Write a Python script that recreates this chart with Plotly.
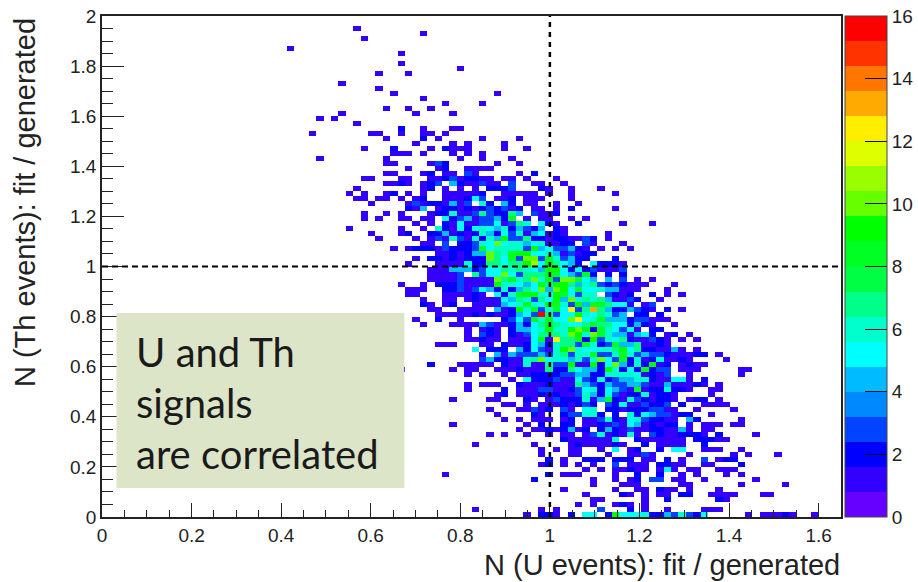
import plotly.graph_objects as go

# Histogram axes
X_MAX = 1.65
Y_MAX = 2.0
N_BINS = 100

# Palette of the z scale, bottom to top
palette = ["#6600ff", "#3300ff", "#0000ff", "#0044ff", "#0088ff", "#00bbff", "#00ffff",
           "#00ffcc", "#00ff88", "#00ff44", "#00ff22", "#00ff00", "#66ff00", "#99ff00",
           "#ddff00", "#ffee00", "#ffaa00", "#ff7700", "#ff3300", "#ff0000"]

x_tick_labels = ["0", "0.2", "0.4", "0.6", "0.8", "1", "1.2", "1.4", "1.6"]
y_tick_labels = ["0", "0.2", "0.4", "0.6", "0.8", "1", "1.2", "1.4", "1.6", "1.8", "2"]
z_ticks = [0, 2, 4, 6, 8, 10, 12, 14, 16]

# Counts per y bin, listed from the top bin down.  "col:digits" = run of counts from x bin col
# (digits in base 17: a=10 ... g=16)
rows_top_down = [
 "", "", "34:1", "43:1", "35:1", "", "25:1", "40:1", "", "40:1",
 "48:1", "37:1 41:1", "", "32:1", "37:1", "39:1 53:1", "43:1", "46:1 51:1", "38:1 41:1 44:1", "32:1 42:1 47:1",
 "29:1 31:1", "34:1", "40:2 43:1 47:11", "28:1 36:11 40:1 43:11 46:1", "38:1 43:2 45:1 51:1 56:1",
 "42:1 47:1 49:1 54:1", "35:1 39:2 44:1 46:2 47:111 54:1 57:1", "39:111 43:1 47:1 49:1 51:1", "29:1 38:1 48:1 51:1 55:1",
 "38:11 44:1 45:3 46:2 53:1 56:1",
 "41:1 45:1 46:2 49:1111", "38:11 43:1 44:2 46:11 49:31 56:1 58:2", "35:11 40:11 44:11 46:2 47:3 48:1 49:22 51:11 54:11 57:1 61:1",
 "38:1121 43:1 44:23 47:42 49:11 51:3 52:11 55:3 58:11 62:1", "34:1 43:12 46:1 48:1 50:1 52:222 55:3 59:21 63:1 67:1",
 "33:1 35:1 38:12 41:1 43:1 46:1111 50:12 54:111 57:11 60:1 63:1 69:1", "34:11 37:11 40:1 42:12 46:111 49:253 53:112 57:11 59:1 63:1",
 "36:1 41:1312 45:21 47:41 49:3 51:62 54:42 57:11 61:1 64:1", "41:214 45:1 46:22 48:1 49:21 51:2323 55:12 58:11 61:1 63:2 69:1",
 "35:1 38:1 40:1 44:12 46:2 47:61 49:13 51:73 53:22 55:74 58:31 60:12",
 "35:1 37:1 40:11 43:1 44:1 46:523 49:41 51:33 53:42 55:8 57:1 59:1 60:1 63:1 65:1", "42:1 44:1 46:21 48:511 51:33 53:51 55:376 59:521 64:2 70:1 74:1",
 "33:1 40:1 43:1 45:6 46:21 48:525 51:654 54:62 56:432 59:4 61:21", "36:1 40:12 44:22 46:41 48:21 50:26 52:42 54:53 56:61 58:45 60:1 61:2 62:1 68:1",
 "37:1 42:1 44:13 46:1 47:63 49:1 50:62 52:64 54:9 55:33 57:72 59:2 60:12 62:21 64:1 65:32 68:1",
 "43:1 44:1 46:3 48:22 50:3 51:65 53:a5 55:66 57:45 59:61 61:1 62:23 63:2 65:31 70:1",
 "39:1 41:1222 45:1 46:3 47:2 48:22 50:3 51:85 53:66 55:66 57:39 59:45 61:33 63:42 64:21 67:1 69:1 71:1",
 "45:11 47:213 49:2 50:44 52:a7 54:6 55:89 57:95 59:56 61:41 63:31 65:22",
 "42:1 44:22 46:1 47:21 49:22 51:2 52:a7 54:5 55:83 57:aa 59:38 61:63 63:4 64:22 69:2",
 "41:1 45:1 46:11 48:1 49:62 51:2 52:77 54:5 55:77 57:9b 59:59 61:75 63:42 66:5 67:2221",
 "44:1 45:1 46:144 49:42 51:35 53:57 55:67 57:65 59:49 61:95 63:25 65:231 68:11 70:3",
 "44:1111 48:3 50:7 51:35 53:5a 55:53 57:77 59:78 61:85 63:43 65:82 68:2 70:2",
 "44:1111 48:3 49:111 52:1 53:a7 55:86 57:7a 59:68 61:3a 63:a8 65:54 68:4 70:3 72:1 74:1",
 "40:1 43:1 45:2 46:22 48:3 49:11 51:11 53:96 55:65 57:45 59:87 61:99 63:74 65:67 67:32 69:3 70:2111 77:1",
 "41:11 43:1 46:22 48:3 49:1 50:35 52:42 54:62 56:47 58:5a 60:4a 62:95 64:85 66:56 68:44 70:111 76:1",
 "41:11 46:11 48:11 50:21 53:5 54:2 55:68 57:99 59:65 61:98 63:5 64:36 66:6 68:32 70:12 74:2 76:1 78:1",
 "43:1 46:11 49:1 50:2 51:111 54:54 56:76 58:37 60:59 62:4a 64:67 66:67 68:41 70:13 72:2 75:1",
 "43:21 46:12 50:1111 54:45 56:68 58:65 60:98 62:63 64:94 66:887 69:55 71:1 73:1 74:3",
 "44:11 48:111 51:1 53:4 54:1 55:2 56:96 58:83 60:68 62:5 63:c 64:37 66:d 67:74 69:22 71:43 73:2 74:1 76:2 78:1",
 "45:111111 50:2 51:1 52:2 53:11 55:24 57:53 59:g7 61:35 63:59 65:6 66:57 68:6 69:34 72:22 75:2",
 "42:1 45:2 48:1 54:2 55:35 57:38 59:68 61:55 63:ac 65:56 67:84 69:44 71:233 74:1 75:11",
 "43:1 47:1111 51:43 53:1 54:12 56:42 58:57 60:87 62:65 64:57 66:87 68:75 70:52 72:42 74:1 77:1",
 "49:1 51:121 55:24 57:45 59:69 61:66 63:9a 65:82 67:86 69:53 71:51 74:22",
 "49:1 51:321 55:21 57:35 59:77 61:76 63:a9 65:6a 67:86 69:44 71:14 73:52 76:12 79:1",
 "49:11 51:211 55:111 58:58 60:1c 62:77 64:82 66:93 68:65 70:72 72:11 74:321 78:1 80:1",
 "45:111 51:11 54:211 57:25 59:42 61:67 63:73 65:86 67:23 69:84 71:47 73:11 75:21",
 "50:5 52:222 56:42 58:53 60:16 62:9a 64:65 66:566 69:79 71:57 73:22 75:11 77:41 80:1",
 "51:1 53:41 55:4 56:33 58:34 60:36 62:73 64:66 66:833 69:68 71:63 73:43 75:32 77:111 80:22 83:1",
 "51:34 53:221 56:1 57:67 59:a5 61:66 63:46 65:36 67:a5 69:38 71:26 73:12 75:61 77:12 79:1 84:1",
 "44:2 48:11111 54:21 56:1 57:6 58:11 60:73 62:39 64:11 66:92 68:5a 70:42 72:62 74:9 75:12 78:1 79:21 81:1",
 "40:1 47:1 49:11 53:11 55:12 57:1 58:11 60:72 62:27 64:54 66:42 68:96 70:25 72:28 74:233 78:111 86:11",
 "49:1 51:1 54:1 56:11 58:222 61:23 63:3 64:44 66:22 68:6666 72:51 74:213 79:1 86:1",
 "55:1 57:52 59:22 61:31 63:1 64:53 66:25 68:2 69:3 70:44 72:66 74:211 77:55 79:1 81:2",
 "49:1 51:111 56:21 58:11 60:2111 64:74 66:32 68:4 69:3 70:34 72:43 74:11 76:4 77:11 79:12 81:1 83:1",
 "49:1 54:2 56:111 59:33 61:11 63:23 65:5 66:62 68:543 71:1 72:81 74:22 76:62 78:21 82:11",
 "53:1 54:2 56:1 57:11 59:21 61:21 63:1 64:3 65:6 66:42 68:53 70:12 72:26 74:12 76:21 82:1",
 "47:1 52:11 57:21 60:13 62:22 64:26 66:14 68:82 70:16 72:3 73:2 74:12 76:21 79:1 80:22 83:1",
 "54:11 57:1 59:111 62:2 63:12 65:32 68:3 69:25 71:11 73:3 74:22 76:3 78:2 81:1111",
 "52:1 56:11 58:3 59:12 62:31 65:56 68:2 69:21 71:22 73:23 75:31 77:1 80:1 85:1",
 "53:1 58:21 62:2 63:33 65:66 67:2 69:2 71:62 73:543 76:31 78:22 82:1",
 "54:1 56:1 58:1 59:11 62:12 65:11 67:36 69:21 71:56 73:32 75:21 77:1 79:42 86:1",
 "47:1 57:1 59:2 62:22 65:11 67:21 69:31 71:54 73:12 75:1 76:22 79:1 81:111 85:11",
 "56:1 58:11 60:2 61:1 62:24 64:1 65:2 67:24 69:21 71:31 73:1 74:22 76:11 78:41 81:11",
 "52:1 54:1 57:1 60:1 62:11 65:1 66:3 67:61 69:2 70:1 71:61 74:32 76:11 78:222 81:1 83:2 88:1",
 "62:2 63:11 65:1111 69:6 72:2 73:1 74:1 75:1 76:1 77:1 78:1 80:222 83:11",
 "50:1 58:1 63:12 65:1111 69:2 70:1 73:2 75:1 76:1 77:1 78:1 81:2",
 "59:1 61:1 63:11 67:1 69:5 71:1 72:2 75:2 77:55 81:111 86:1",
 "59:1 63:11 68:1 71:1 72:1 73:3 74:1 79:1 85:1 87:1 91:1",
 "60:2 62:1 65:222 69:222 73:11 76:2 78:1 81:3 83:1 84:22",
 "59:12 62:1 64:1 66:1 69:3 71:111 75:22 77:11 81:11 86:2",
 "65:1 67:1 69:11 71:2 72:1 73:1 75:1 76:5 77:1 79:11 83:111",
 "46:1 60:2 62:111 69:1 72:2 75:2 78:1 80:1 84:1 86:1",
 "58:2 66:1 69:1 71:11 72:2 74:33 77:11 81:1 88:1",
 "66:1 70:1 71:1 72:1 78:11 86:1 92:1",
 "62:1 69:1 72:1 73:1 75:2 76:11 79:1 83:1",
 "65:1 70:21 73:1 75:11 78:22 82:1111 89:11",
 "66:11 73:1 76:2 83:21",
 "64:1 66:1 69:12 71:1 73:1",
 "50:1 59:1 61:1 67:3 71:2 73:1 76:1 81:11 83:1",
 "57:1 59:221 63:2 65:55 68:2 69:9 70:55 72:5 73:6 74:22 76:4 77:3 78:6 79:3 80:2 81:5 87:1 89:11 91:1 92:2 93:1 96:1",
]

# Annotation text box
box_lines = ["U and Th", "signals", "are correlated"]
x_title = "N (U events): fit / generated"
y_title = "N (Th events): fit / generated"

# ---- build
bin_w = X_MAX / N_BINS
bin_h = Y_MAX / N_BINS
x_centers = [(i + 0.5) * bin_w for i in range(N_BINS)]
y_centers = [(j + 0.5) * bin_h for j in range(N_BINS)]
z = [[None] * N_BINS for _ in range(N_BINS)]
for r, row in enumerate(rows_top_down):
    j = N_BINS - 1 - r
    for run in row.split():
        col, digits = run.split(":")
        for k, ch in enumerate(digits):
            z[j][int(col) + k] = int(ch, 17)

n = len(palette)
colorscale = []
for k, c in enumerate(palette):
    colorscale += [[k / n, c], [(k + 1) / n, c]]

# Plot-area pixel frame
W, H = 918, 582
L, R, T, B = 101.5, 841, 16, 517
pw, ph = R - L, B - T


def px(v):
    return (v - L) / pw


def py(v):
    return (B - v) / ph


fig = go.Figure(go.Heatmap(
    x=x_centers, y=y_centers, z=z, zmin=0, zmax=16, colorscale=colorscale,
    hoverongaps=False, xgap=0, ygap=0,
    colorbar=dict(x=px(845), xanchor="left", y=0, yanchor="bottom", len=1, lenmode="fraction",
                  thickness=42, thicknessmode="pixels", xpad=0, ypad=0,
                  tickvals=z_ticks, ticktext=[str(t) for t in z_ticks],
                  ticks="inside", ticklen=22, tickwidth=1, tickcolor="#111111",
                  outlinewidth=1, outlinecolor="#444444",
                  tickfont=dict(family="Liberation Sans", size=19, color="#222222")),
))

axis_common = dict(showgrid=False, zeroline=False, showline=True, linecolor="#222222", linewidth=1.5,
                   mirror=True, ticks="inside", tickcolor="#222222",
                   tickfont=dict(family="Liberation Sans", size=19, color="#222222"))
fig.update_xaxes(range=[0, X_MAX], tickvals=[float(t) for t in x_tick_labels], ticktext=x_tick_labels,
                 ticklen=14, tickwidth=1,
                 minor=dict(dtick=0.05, tick0=0, ticks="inside", ticklen=7, tickcolor="#222222", tickwidth=1),
                 **axis_common)
fig.update_yaxes(range=[0, Y_MAX], tickvals=[float(t) for t in y_tick_labels], ticktext=y_tick_labels,
                 ticklen=22, tickwidth=1,
                 minor=dict(dtick=0.05, tick0=0, ticks="inside", ticklen=11, tickcolor="#222222", tickwidth=1),
                 **axis_common)

shapes = [
    dict(type="line", xref="x", yref="paper", x0=1, x1=1, y0=0, y1=1,
         line=dict(color="black", width=2.5, dash="5px,5px")),
    dict(type="line", xref="paper", yref="y", x0=0, x1=1, y0=1, y1=1,
         line=dict(color="black", width=2, dash="6px,4px")),
    dict(type="rect", xref="paper", yref="paper", x0=px(116), x1=px(404), y0=py(488), y1=py(313),
         fillcolor="#dde5c9", line=dict(width=0), layer="above"),
]

annotations = [
    dict(xref="paper", yref="paper", x=1.002, y=py(565), text=x_title, showarrow=False, xanchor="right", yanchor="middle",
         font=dict(family="Liberation Sans", size=29, color="#222222")),
    dict(xref="paper", yref="paper", x=px(24), y=1, text=y_title, showarrow=False, textangle=-90,
         xanchor="center", yanchor="top", font=dict(family="Liberation Sans", size=29, color="#222222")),
]
for line, yc in zip(box_lines, [352, 403, 454]):
    annotations.append(dict(xref="paper", yref="paper", x=px(134), y=py(yc), text=line, showarrow=False,
                            xanchor="left", yanchor="middle",
                            font=dict(family="Lato", size=40, color="#1a1a1a")))

fig.update_layout(width=W, height=H, autosize=False, paper_bgcolor="white", plot_bgcolor="white",
                  margin=dict(l=L, r=W - R, t=T, b=H - B, autoexpand=False), shapes=shapes, annotations=annotations,
                  showlegend=False)
fig.write_html("out.html", config={"displayModeBar": False},
               post_script="document.body.style.margin='0';document.documentElement.style.overflow='hidden';")
